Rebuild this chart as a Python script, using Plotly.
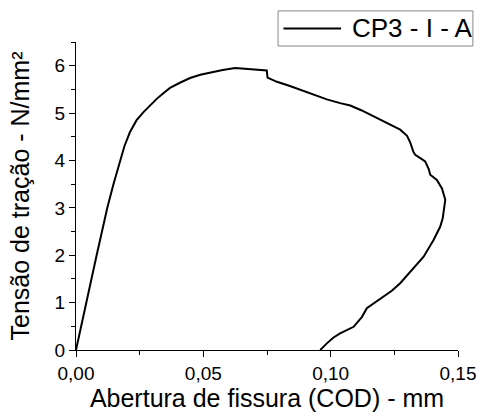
import plotly.graph_objects as go

# Crack opening displacement (mm) and tensile stress (N/mm²)
cod = [0.0, 0.0020, 0.0039, 0.0060, 0.0081, 0.0102, 0.0123, 0.0147, 0.0173, 0.0190,
       0.0212, 0.0238, 0.0265, 0.0291, 0.0317, 0.0343, 0.0369, 0.0408, 0.0448, 0.0488,
       0.0527, 0.0576, 0.0625, 0.0684, 0.0749, 0.0752, 0.0789, 0.0840, 0.0880, 0.0930,
       0.0985, 0.1037, 0.1077, 0.1120, 0.1168, 0.1220, 0.1273, 0.1300, 0.1313, 0.1325,
       0.1332, 0.1355, 0.1371, 0.1385, 0.1391, 0.1417, 0.1437, 0.1450, 0.1446, 0.1440,
       0.1430, 0.1404, 0.1365, 0.1319, 0.1273, 0.1240, 0.1208, 0.1175, 0.1142, 0.1123,
       0.1090, 0.1037, 0.1010, 0.0985, 0.0959]
stress = [0.0, 0.50, 1.00, 1.50, 2.00, 2.50, 3.00, 3.50, 4.00, 4.30,
          4.60, 4.85, 5.02, 5.17, 5.30, 5.42, 5.53, 5.64, 5.74, 5.81,
          5.86, 5.91, 5.95, 5.93, 5.90, 5.75, 5.66, 5.57, 5.49, 5.39,
          5.29, 5.21, 5.16, 5.06, 4.93, 4.80, 4.65, 4.52, 4.37, 4.18,
          4.12, 4.04, 3.98, 3.82, 3.70, 3.59, 3.41, 3.17, 2.96, 2.78,
          2.60, 2.32, 1.97, 1.69, 1.41, 1.25, 1.13, 1.01, 0.88, 0.70,
          0.49, 0.35, 0.26, 0.14, 0.0]
series_name = "CP3 - I - A"
x_ticks = [0.0, 0.05, 0.10, 0.15]
y_ticks = [0, 1, 2, 3, 4, 5, 6]

FONT = "Liberation Sans, Arial, sans-serif"

fig = go.Figure()
fig.add_trace(go.Scatter(x=cod, y=stress, mode="lines", name=series_name,
                         line=dict(color="black", width=2), showlegend=False))

# Legend box drawn in paper coordinates (Origin-style boxed legend)
fig.add_shape(type="rect", xref="paper", yref="paper", x0=0.529, x1=1.039, y0=0.987, y1=1.101,
              line=dict(color="#888888", width=1), fillcolor="white", layer="above")
fig.add_shape(type="line", xref="paper", yref="paper", x0=0.543, x1=0.694, y0=1.044, y1=1.044,
              line=dict(color="black", width=2), layer="above")
fig.add_annotation(text=series_name, xref="paper", yref="paper", x=0.716, y=1.044,
                   xanchor="left", yanchor="middle", showarrow=False,
                   font=dict(size=26, color="black", family=FONT))

fig.update_layout(
    width=479, height=412,
    margin=dict(l=76, r=21, t=42, b=62),
    paper_bgcolor="white", plot_bgcolor="white",
    separators=",.",
    font=dict(family=FONT, color="black", size=19),
    showlegend=False,
    xaxis=dict(range=[0, 0.15], tickvals=x_ticks, tickformat=".2f", automargin=False,
               showline=True, linecolor="black", linewidth=1,
               ticks="outside", ticklen=6, tickcolor="black", showgrid=False, zeroline=False,
               minor=dict(dtick=0.025, ticks="outside", ticklen=4, tickcolor="black"),
               tickfont=dict(size=19),
               title=dict(text="Abertura de fissura (COD) - mm", font=dict(size=25), standoff=8)),
    yaxis=dict(range=[0, 6.5], tickvals=y_ticks, automargin=False,
               showline=True, linecolor="black", linewidth=1,
               ticks="outside", ticklen=6, tickcolor="black", showgrid=False, zeroline=False,
               minor=dict(dtick=0.5, ticks="outside", ticklen=4, tickcolor="black"),
               tickfont=dict(size=19),
               title=dict(text="Tensão de tração - N/mm²", font=dict(size=25), standoff=17)),
)

fig.write_html("out.html")
